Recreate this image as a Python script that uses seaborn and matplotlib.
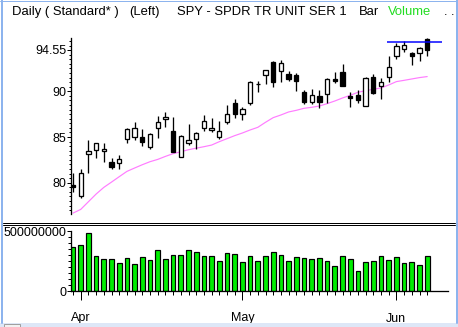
import numpy as np
import pandas as pd
import matplotlib
matplotlib.use("Agg")
import matplotlib.pyplot as plt
from matplotlib.lines import Line2D
from matplotlib.patches import Rectangle
from matplotlib.ticker import FixedLocator, MultipleLocator, NullFormatter
import seaborn as sns

# ---- daily SPY data, 31 Mar 2009 .. 5 Jun 2009 ----
dates = pd.bdate_range("2009-03-31", "2009-06-05")
dates = dates[~dates.isin(pd.to_datetime(["2009-04-10", "2009-05-25"]))]

opens = [79.75, 78.54, 83.10, 83.58, 83.43, 82.30, 82.15, 84.74, 84.96, 85.04,
         83.87, 85.95, 86.93, 85.66, 82.85, 84.31, 84.74, 86.02, 85.73, 85.04,
         86.61, 88.69, 87.48, 88.69, 90.75, 91.75, 93.18, 92.19, 91.86, 91.75,
         89.89, 88.80, 89.45, 89.67, 91.31, 92.08, 89.53, 89.56, 88.43, 91.53,
         90.55, 91.53, 93.83, 94.60, 94.16, 94.16, 95.69]
highs = [81.09, 81.46, 84.67, 84.38, 84.31, 82.70, 82.99, 85.95, 86.61, 85.84,
         85.40, 87.30, 87.70, 87.15, 85.18, 86.39, 85.51, 87.37, 87.04, 86.72,
         88.47, 89.12, 88.25, 91.09, 91.09, 92.30, 93.28, 93.39, 92.19, 91.97,
         90.11, 90.22, 90.11, 91.42, 92.08, 92.99, 89.89, 90.11, 91.60, 91.90,
         91.42, 93.83, 95.26, 95.47, 94.27, 94.82, 95.80]
lows = [79.01, 78.28, 81.09, 82.66, 82.30, 81.53, 81.53, 84.38, 84.67, 84.05,
        83.69, 84.85, 86.13, 83.39, 82.77, 84.09, 83.65, 85.66, 85.58, 84.82,
        86.39, 87.04, 86.82, 88.47, 89.89, 90.77, 90.44, 90.99, 91.17, 90.00,
        88.58, 88.58, 88.21, 88.69, 90.88, 90.55, 88.32, 88.76, 88.36, 89.67,
        89.20, 91.06, 93.58, 94.27, 92.85, 93.36, 93.91]
closes = [79.55, 81.09, 83.43, 84.31, 83.69, 81.68, 82.55, 85.84, 85.95, 84.42,
          85.29, 86.61, 87.15, 83.39, 85.07, 84.64, 85.40, 86.72, 85.95, 85.62,
          87.48, 87.48, 88.03, 90.99, 90.80, 92.30, 90.99, 93.07, 91.31, 91.09,
          88.80, 89.56, 88.80, 91.31, 91.13, 90.62, 89.31, 89.09, 91.42, 89.78,
          90.99, 92.63, 94.96, 95.04, 93.83, 94.71, 94.55]
moving_avg = [76.68, 77.08, 77.92, 78.76, 79.49, 80.07, 80.66, 81.24, 81.61, 81.97,
              82.30, 82.55, 82.88, 83.18, 83.39, 83.61, 83.78, 83.94, 84.12, 84.49,
              84.82, 85.15, 85.44, 85.77, 86.06, 86.61, 87.12, 87.41, 87.74, 87.92,
              88.14, 88.25, 88.39, 88.65, 88.94, 89.27, 89.56, 89.89, 90.07, 90.22,
              90.36, 90.69, 91.06, 91.20, 91.35, 91.50, 91.61]
volumes_m = [364, 383, 481, 289, 264, 264, 231, 272, 222, 281,
             256, 339, 264, 297, 297, 339, 322, 289, 289, 247,
             314, 306, 239, 289, 247, 289, 322, 297, 247, 281,
             272, 264, 272, 247, 206, 289, 264, 164, 239, 247,
             289, 256, 281, 231, 239, 214, 289]
resistance_level = 95.36
resistance_from = 41

price_ticks = [80, 85, 90, 94.55]
price_tick_labels = ["80", "85", "90", "94.55"]
volume_ticks = [0, 500000000]
volume_tick_labels = ["0", "500000000"]

df = pd.DataFrame({"date": dates, "open": opens, "high": highs, "low": lows,
                   "close": closes, "ma": moving_avg,
                   "volume": np.array(volumes_m) * 1e6})
df["idx"] = np.arange(len(df))

# ---- figure ----
W, H = 458, 327
sns.set_theme(style="white")
plt.rcParams["font.family"] = ["Liberation Sans", "DejaVu Sans"]
fig = plt.figure(figsize=(W / 100, H / 100), dpi=100)
fig.patch.set_facecolor("white")

def fx(px):
    return px / W

def fy(py):
    return 1 - py / H

ax_left, ax_right = 71, 448
ax_p = fig.add_axes([fx(ax_left), fy(214), fx(ax_right - ax_left), fy(38) - fy(214)])
ax_v = fig.add_axes([fx(ax_left), fy(291), fx(ax_right - ax_left), fy(231) - fy(291)])

xmin = -(73 - ax_left) / 7.7
xmax = (ax_right - 73) / 7.7
lw_px = 72 / 100  # one pixel in points

# ---- price panel: candlesticks ----
up = df["close"] >= df["open"]
ax_p.vlines(df["idx"], df["low"], df["high"], color="black", linewidth=1.3 * lw_px, zorder=2)
body_bottom = np.minimum(df["open"], df["close"])
body_height = np.maximum(np.abs(df["close"] - df["open"]), 0.06)
ax_p.bar(df["idx"], body_height, bottom=body_bottom, width=0.56,
         color=np.where(up, "white", "black"), edgecolor="black",
         linewidth=1.3 * lw_px, zorder=3)
sns.lineplot(data=df, x="idx", y="ma", ax=ax_p, color="#ff7dff",
             linewidth=1.0 * lw_px * 1.2, zorder=1)
ax_p.hlines(resistance_level, resistance_from - 0.2, xmax - 0.8, color="#0000ff",
            linewidth=1.5 * lw_px, zorder=4)

ax_p.set_xlim(xmin, xmax)
ax_p.set_ylim(76.58, 95.83)
ax_p.set_xlabel("")
ax_p.set_ylabel("")
ax_p.set_xticks([])
for s in ["top", "right", "bottom"]:
    ax_p.spines[s].set_visible(False)
ax_p.spines["left"].set_color("black")
ax_p.spines["left"].set_linewidth(1.3 * lw_px)
ax_p.yaxis.set_major_locator(FixedLocator(price_ticks))
ax_p.set_yticklabels(price_tick_labels)
ax_p.yaxis.set_minor_locator(MultipleLocator(0.5))
ax_p.tick_params(axis="y", which="major", left=True, length=4 * lw_px,
                 width=1 * lw_px, color="black", pad=0.5, labelsize=9,
                 labelcolor="black")
ax_p.tick_params(axis="y", which="minor", left=True, length=2.5 * lw_px,
                 width=1 * lw_px, color="black")
ax_p.patch.set_alpha(0)

# ---- volume panel ----
sns.barplot(data=df, x="idx", y="volume", ax=ax_v, color="#00ee00",
            saturation=1, edgecolor="black", linewidth=1.2 * lw_px, width=0.6,
            native_scale=True, zorder=2)
ax_v.set_xlim(xmin, xmax)
ax_v.set_ylim(0, 500000000)
ax_v.set_xlabel("")
ax_v.set_ylabel("")
for s in ["top", "right"]:
    ax_v.spines[s].set_visible(False)
for s in ["left", "bottom"]:
    ax_v.spines[s].set_color("black")
    ax_v.spines[s].set_linewidth(1.3 * lw_px)
ax_v.yaxis.set_major_locator(FixedLocator(volume_ticks))
ax_v.set_yticklabels(volume_tick_labels)
ax_v.yaxis.set_minor_locator(MultipleLocator(50000000))
ax_v.tick_params(axis="y", which="major", left=True, length=4 * lw_px,
                 width=1 * lw_px, color="black", pad=0.5, labelsize=9,
                 labelcolor="black")
ax_v.tick_params(axis="y", which="minor", left=True, length=3 * lw_px,
                 width=1 * lw_px, color="black")

month_first = df.groupby(df["date"].dt.to_period("M"))["idx"].min()
month_first = month_first[month_first > 0]
ax_v.xaxis.set_major_locator(FixedLocator(month_first.values))
ax_v.set_xticklabels([d.strftime("%b") for d in df.loc[month_first.values, "date"]])
ax_v.xaxis.set_minor_locator(FixedLocator(df["idx"].values))
ax_v.xaxis.set_minor_formatter(NullFormatter())
ax_v.tick_params(axis="x", which="major", bottom=True, length=9 * lw_px,
                 width=1 * lw_px, color="black", pad=9, labelsize=9,
                 labelcolor="black")
ax_v.tick_params(axis="x", which="minor", bottom=True, length=4 * lw_px,
                 width=1 * lw_px, color="black")

# ---- panel separator (double rule) ----
for yy in (222.5, 224.5):
    fig.add_artist(Line2D([fx(3), fx(455)], [fy(yy), fy(yy)], color="black",
                          linewidth=1 * lw_px))

# ---- title strip ----
ty = fy(12)
title_parts = [("Daily ( Standard* )", 12, "black"), ("(Left)", 129, "black"),
               ("SPY - SPDR TR UNIT SER 1", 177, "black"), ("Bar", 359, "black"),
               ("Volume", 388, "#22dd22"), (".", 444, "black"), (".", 451, "black")]
for txt, xpx, col in title_parts:
    fig.text(fx(xpx), ty, txt, ha="left", va="center", fontsize=9.4, color=col,
             zorder=10)

# ---- window frame ----
frame_col = "#8db4ee"
fig.add_artist(Line2D([fx(2), fx(2)], [fy(0), fy(323)], color=frame_col, linewidth=2 * lw_px))
fig.add_artist(Line2D([fx(456.5), fx(456.5)], [fy(0), fy(323)], color=frame_col, linewidth=2 * lw_px))
fig.add_artist(Line2D([fx(0), fx(458)], [fy(0.5), fy(0.5)], color=frame_col, linewidth=1 * lw_px))
fig.add_artist(Rectangle((0, 0), 1, fy(323), transform=fig.transFigure,
                         facecolor="#dde7f7", edgecolor="none"))
fig.add_artist(Rectangle((fx(4), fy(327)), fx(16), fy(324) - fy(327), transform=fig.transFigure,
                         facecolor="#f2f2f2", edgecolor="#a0a0a0", linewidth=lw_px))

fig.savefig("out.png", dpi=100)
